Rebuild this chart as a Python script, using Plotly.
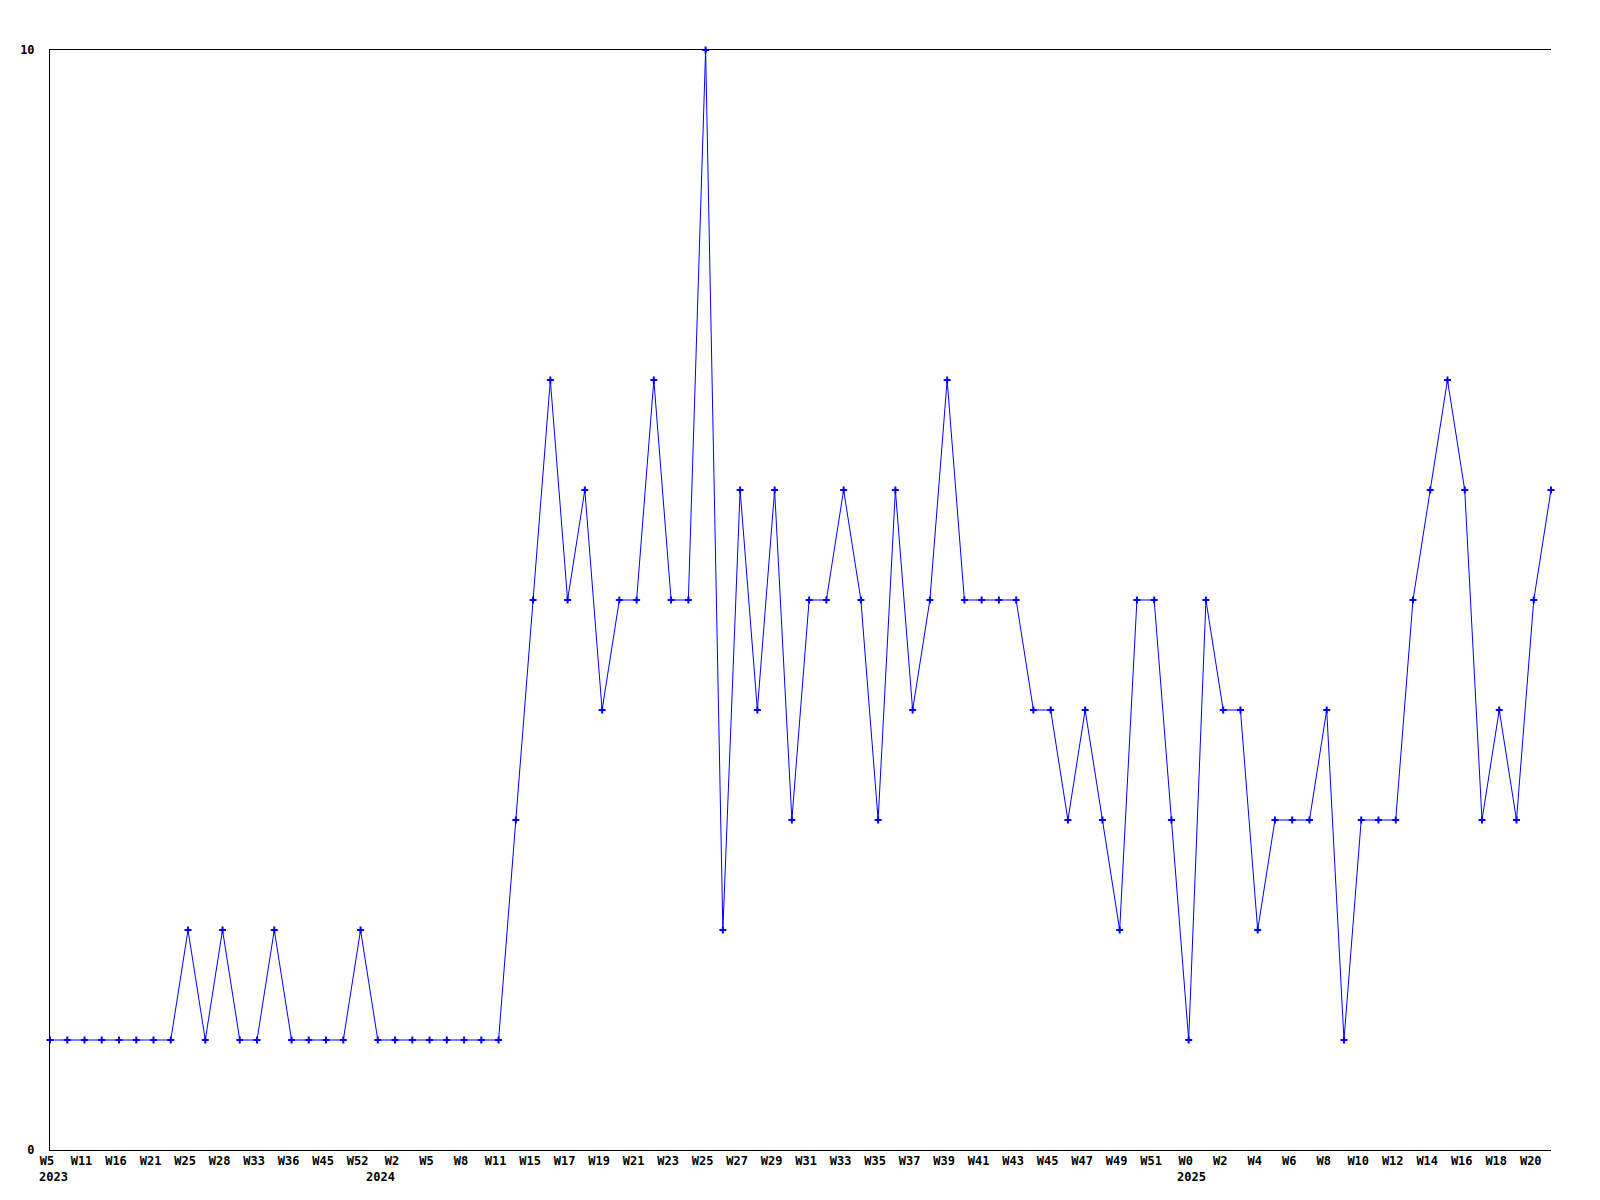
import plotly.graph_objects as go

years = [2023]*19 + [2024]*47 + [2025]*22
weeks = [5, 8, 11, 13, 16, 18, 21, 23, 25, 26, 28, 30, 33, 34, 36, 40, 45, 48, 52,
         1, 2, 3, 5, 6, 8, 9, 11, 13, 15, 16, 17, 18, 19, 20, 21, 22, 23, 24, 25, 26,
         27, 28, 29, 30, 31, 32, 33, 34, 35, 36, 37, 38, 39, 40, 41, 42, 43, 44, 45, 46,
         47, 48, 49, 50, 51, 52,
         0, 1, 2, 3, 4, 5, 6, 7, 8, 9, 10, 11, 12, 13, 14, 15, 16, 17, 18, 19, 20, 21]
values = [1, 1, 1, 1, 1, 1, 1, 1, 2, 1, 2, 1, 1, 2, 1, 1, 1, 1, 2, 1,
          1, 1, 1, 1, 1, 1, 1, 3, 5, 7, 5, 6, 4, 5, 5, 7, 5, 5, 10, 2,
          6, 4, 6, 3, 5, 5, 6, 5, 3, 6, 4, 5, 7, 5, 5, 5, 5, 4, 4, 3,
          4, 3, 2, 5, 5, 3, 1, 5, 4, 4, 2, 3, 3, 3, 4, 1, 3, 3, 3, 5,
          6, 7, 6, 3, 4, 3, 5, 6]

cats = [f"{y}-W{w}" for y, w in zip(years, weeks)]
tickvals = [cats[i] for i in range(0, len(cats), 2)]
ticktext = [f"W{weeks[i]}" for i in range(0, len(cats), 2)]

font = dict(family="DejaVu Sans Mono", size=12, color="black", weight="bold")

fig = go.Figure()
fig.add_trace(go.Scatter(
    x=cats, y=values, mode="lines+markers",
    line=dict(color="#0000ff", width=1),
    marker=dict(symbol="cross-thin", size=5, color="#0000ff",
                line=dict(color="#0000ff", width=2)),
    cliponaxis=False, showlegend=False,
))

# year labels under the first point of each year
seen = set()
for c, y in zip(cats, years):
    if y not in seen:
        seen.add(y)
        fig.add_annotation(x=c, y=0, xref="x", yref="paper", text=str(y),
                           showarrow=False, yanchor="middle", yshift=-27,
                           xshift=3, font=font)

fig.update_layout(
    width=1584, height=1184,
    margin=dict(l=42, r=41, t=42, b=42, autoexpand=False),
    plot_bgcolor="white", paper_bgcolor="white",
    font=font,
    xaxis=dict(type="category", range=[0, len(cats) - 1],
               tickvals=tickvals, ticktext=ticktext, tickangle=0,
               showgrid=False, zeroline=False, showline=True,
               linecolor="black", linewidth=1, mirror=True,
               ticks="", tickfont=font, automargin=False,
               ticklabelshift=-3),
    yaxis=dict(range=[0, 10], tickvals=[0, 10], ticktext=["0", "10"],
               showgrid=False, zeroline=False, showline=True,
               linecolor="black", linewidth=1, mirror=False,
               ticks="", tickfont=font, ticklabelstandoff=12,
               automargin=False),
)
fig.write_html("out.html")
